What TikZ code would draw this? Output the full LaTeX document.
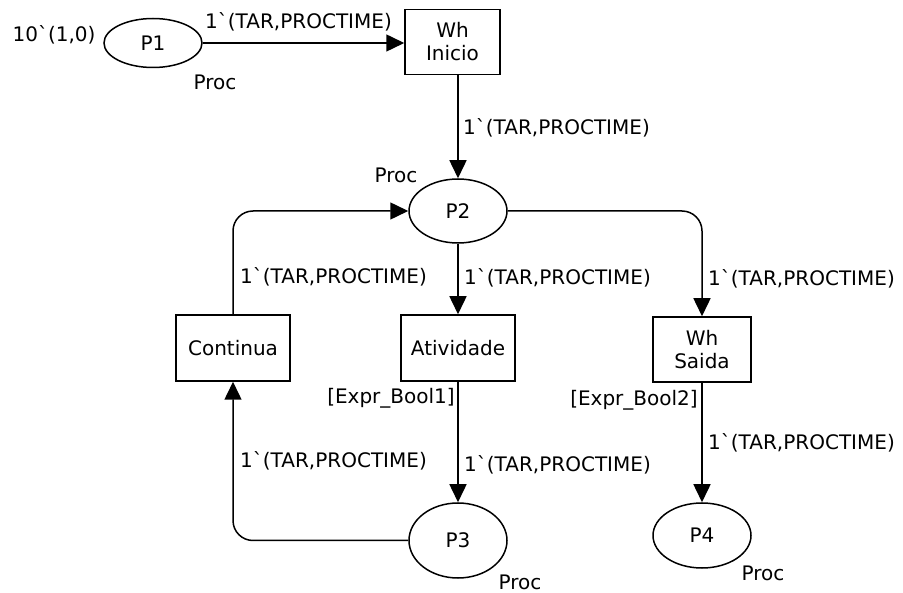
\documentclass[tikz,border=0pt]{standalone}
\usepackage{fontspec}
\setmainfont{DejaVu Sans}[Ligatures=TeXOff]
\usetikzlibrary{shapes.geometric,arrows.meta}
\newcommand{\inscr}{1\symbol{96}(TAR,PROCTIME)}
\begin{document}
\begin{tikzpicture}[x=1pt,y=-1pt,
  every node/.style={font=\fontsize{20}{23}\selectfont},
  place/.style={draw,ellipse,line width=1.5pt,minimum width=98pt,inner sep=0pt},
  trans/.style={draw,rectangle,line width=1.5pt,align=center,inner sep=0pt},
  arc/.style={line width=1.5pt,-{Triangle[length=18pt,width=17pt]}},
  lbl/.style={inner sep=0pt,anchor=west}]
\useasboundingbox (0,0) rectangle (903,593);

% places
\node[place,minimum height=49pt] (p1) at (153,43) {P1};
\node[place,minimum height=64pt] (p2) at (458,211) {P2};
\node[place,minimum height=75pt] (p3) at (458,540.5) {P3};
\node[place,minimum height=65pt] (p4) at (702,535.5) {P4};

% transitions
\node[trans,minimum width=95pt,minimum height=65pt] (inicio) at (452.5,42) {Wh\\Inicio};
\node[trans,minimum width=114pt,minimum height=66pt] (continua) at (233,348) {Continua};
\node[trans,minimum width=114pt,minimum height=66pt] (ativ) at (458,348) {Atividade};
\node[trans,minimum width=98pt,minimum height=65pt] (saida) at (702,349.5) {Wh\\Saida};

% initial marking, colour sets and guards
\node[inner sep=0pt] (m1) at (54,35) {10\symbol{96}(1,0)};
\node[inner sep=0pt] (cs1) at (215,82) {Proc};
\node[inner sep=0pt] (cs2) at (396,175) {Proc};
\node[inner sep=0pt] (cs3) at (520,582) {Proc};
\node[inner sep=0pt] (cs4) at (763,573) {Proc};
\node[inner sep=0pt] (g1) at (391,398) {[Expr\_Bool1]};
\node[inner sep=0pt] (g2) at (634,400) {[Expr\_Bool2]};

% arcs
\draw[arc] (p1.east) -- (p1.east -| inicio.west);
\draw[arc] (inicio.south -| p2.north) -- (p2.north);
\draw[arc] (p2.south) -- (ativ.north);
\draw[arc,rounded corners=20pt] (p2.east) -| (saida.north);
\draw[arc,rounded corners=20pt] (continua.north) |- (p2.west);
\draw[arc] (ativ.south) -- (p3.north);
\draw[arc,rounded corners=20pt] (p3.west) -| (continua.south);
\draw[arc] (saida.south) -- (p4.north);

% arc inscriptions
\node[lbl] (a1) at (205,22) {\inscr};
\node[lbl] (a2) at (463,128) {\inscr};
\node[lbl] (a3) at (464,278) {\inscr};
\node[lbl] (a4) at (240,277) {\inscr};
\node[lbl] (a5) at (708,279) {\inscr};
\node[lbl] (a6) at (464,465) {\inscr};
\node[lbl] (a7) at (240,461) {\inscr};
\node[lbl] (a8) at (708,443) {\inscr};
\end{tikzpicture}
\end{document}
